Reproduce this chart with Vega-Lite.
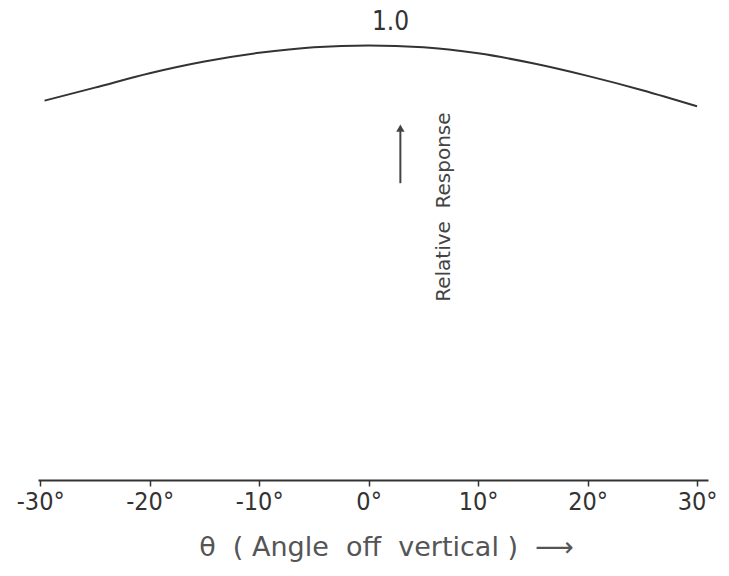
{
  "$schema": "https://vega.github.io/schema/vega-lite/v6.json",
  "width": 670,
  "height": 478,
  "autosize": {"type": "none"},
  "padding": {"left": 38, "top": 2, "right": 21, "bottom": 96},
  "background": "white",
  "config": {"view": {"stroke": null}},
  "datasets": {
    "curve": [
      {"angle": -29.6, "response": 0.873},
      {"angle": -25, "response": 0.903},
      {"angle": -20, "response": 0.936},
      {"angle": -15, "response": 0.963},
      {"angle": -10, "response": 0.983},
      {"angle": -5, "response": 0.996},
      {"angle": 0, "response": 1.0},
      {"angle": 5, "response": 0.996},
      {"angle": 10, "response": 0.982},
      {"angle": 15, "response": 0.959},
      {"angle": 20, "response": 0.93},
      {"angle": 25, "response": 0.897},
      {"angle": 30, "response": 0.86}
    ],
    "peak": [{"angle": 2.0, "response": 1.055, "label": "1.0"}],
    "arrow": [{"angle": 2.9, "from": 0.683, "to": 0.805, "tip": 0.81}],
    "ylabel": [{"angle": 6.9, "response": 0.628, "label": "Relative\u00a0\u00a0Response"}]
  },
  "layer": [
    {
      "data": {"name": "curve"},
      "mark": {"type": "line", "color": "#333333", "strokeWidth": 2, "interpolate": "monotone"},
      "encoding": {
        "x": {
          "field": "angle",
          "type": "quantitative",
          "scale": {"domain": [-30.2, 31.0], "nice": false, "zero": false},
          "axis": {
            "values": [-30, -20, -10, 0, 10, 20, 30],
            "labelExpr": "datum.value + '°'",
            "labelFont": "DejaVu Sans Condensed",
            "labelFontSize": 25,
            "labelColor": "#333333",
            "labelPadding": 3,
            "tickSize": 6,
            "tickWidth": 1.5,
            "tickColor": "#333333",
            "domainColor": "#333333",
            "domainWidth": 2,
            "grid": false,
            "title": "θ\u00a0\u00a0(\u00a0Angle\u00a0\u00a0off\u00a0\u00a0vertical\u00a0)\u00a0\u00a0⟶",
            "titleFont": "DejaVu Sans",
            "titleFontSize": 27,
            "titleFontWeight": "normal",
            "titleColor": "#555555",
            "titlePadding": 20,
            "titleX": 348
          }
        },
        "y": {
          "field": "response",
          "type": "quantitative",
          "scale": {"domain": [0, 1.1], "nice": false},
          "axis": null
        }
      }
    },
    {
      "data": {"name": "peak"},
      "mark": {"type": "text", "font": "DejaVu Sans Condensed", "fontSize": 26, "color": "#333333", "baseline": "middle"},
      "encoding": {
        "x": {"field": "angle", "type": "quantitative"},
        "y": {"field": "response", "type": "quantitative"},
        "text": {"field": "label"}
      }
    },
    {
      "data": {"name": "arrow"},
      "mark": {"type": "rule", "color": "#444444", "strokeWidth": 2},
      "encoding": {
        "x": {"field": "angle", "type": "quantitative"},
        "y": {"field": "from", "type": "quantitative"},
        "y2": {"field": "to"}
      }
    },
    {
      "data": {"name": "arrow"},
      "mark": {"type": "point", "shape": "triangle-up", "filled": true, "color": "#444444", "size": 70, "opacity": 1},
      "encoding": {
        "x": {"field": "angle", "type": "quantitative"},
        "y": {"field": "tip", "type": "quantitative"}
      }
    },
    {
      "data": {"name": "ylabel"},
      "mark": {"type": "text", "angle": 270, "font": "DejaVu Sans", "fontSize": 20, "color": "#444444", "baseline": "middle", "align": "center"},
      "encoding": {
        "x": {"field": "angle", "type": "quantitative"},
        "y": {"field": "response", "type": "quantitative"},
        "text": {"field": "label"}
      }
    }
  ]
}
